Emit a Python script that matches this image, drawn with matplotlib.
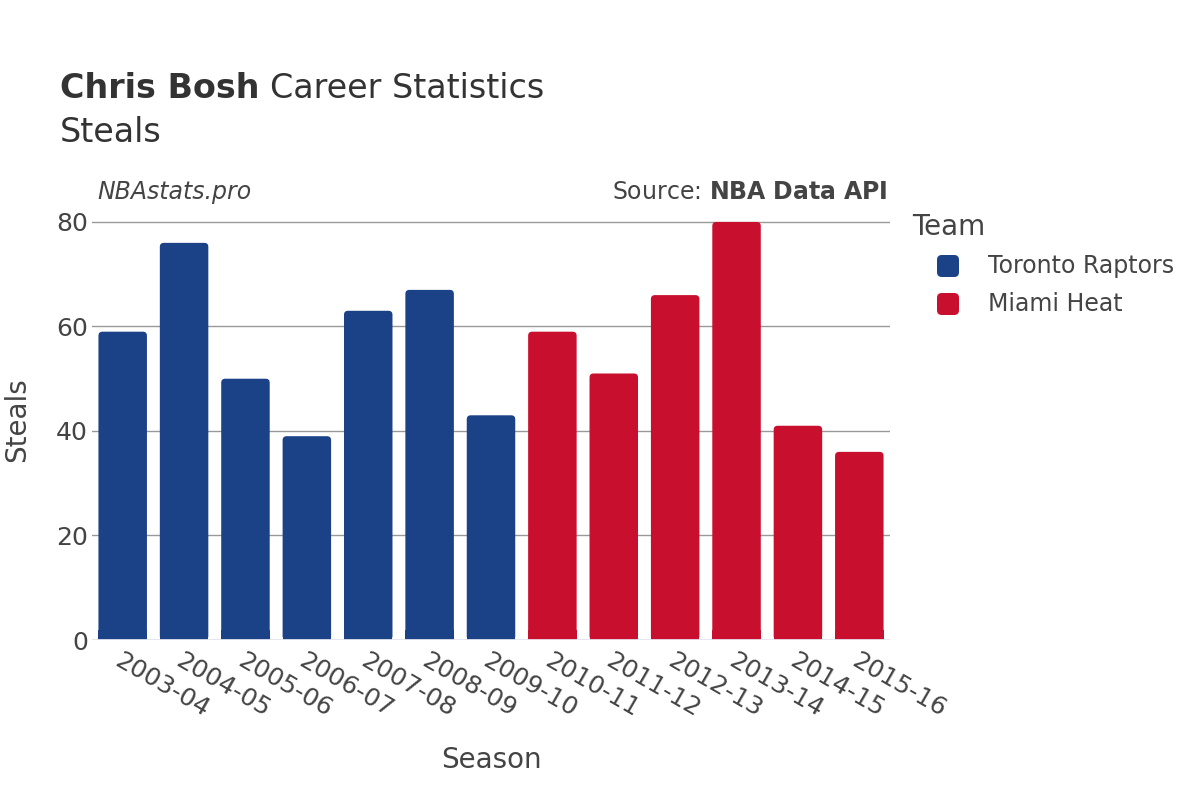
import matplotlib.pyplot as plt
from matplotlib.patches import FancyBboxPatch

seasons = ["2003-04", "2004-05", "2005-06", "2006-07", "2007-08", "2008-09", "2009-10",
           "2010-11", "2011-12", "2012-13", "2013-14", "2014-15", "2015-16"]
steals = [59, 76, 50, 39, 63, 67, 43, 59, 51, 66, 80, 41, 36]
teams = ["Toronto Raptors"] * 7 + ["Miami Heat"] * 6
team_names = ["Toronto Raptors", "Miami Heat"]
team_colors = {"Toronto Raptors": "#1b4186", "Miami Heat": "#c8102e"}

TXT = "#444444"
plt.rcParams['font.family'] = ['DejaVu Sans']

fig = plt.figure(figsize=(12, 8), dpi=100)
ax = fig.add_axes([92 / 1200, 160 / 800, 798 / 1200, 440 / 800])

x = list(range(len(seasons)))
ymax = 84.2
ax.set_xlim(-0.5, len(seasons) - 0.5)
ax.set_ylim(0, ymax)

# rounded bars
px_x = len(seasons) / 798
px_y = ymax / 440
aspect = px_y / px_x
width = 0.79
for xi, v, t in zip(x, steals, teams):
    p = FancyBboxPatch((xi - width / 2, 0), width, v,
                       boxstyle="round,pad=0,rounding_size=%f" % (4 * px_x),
                       mutation_aspect=aspect,
                       facecolor=team_colors[t], edgecolor="none", zorder=3)
    ax.add_patch(p)
    # square off the bottom corners
    ax.bar(xi, min(v, 2), width=width, bottom=0, color=team_colors[t], zorder=3)

ax.set_yticks([0, 20, 40, 60, 80])
ax.grid(axis="y", color="#999999", linewidth=1, zorder=0)
ax.axhline(0, color="#e6e6f0", linewidth=2, zorder=4)
for s in ax.spines.values():
    s.set_visible(False)
ax.tick_params(axis="both", length=0, labelsize=18, colors=TXT)
ax.tick_params(axis="y", pad=3)
ax.set_xticks(x)
ax.set_xticklabels(seasons, rotation=-30, ha="left", rotation_mode="anchor")
ax.tick_params(axis="x", pad=6)

ax.set_xlabel("Season", fontsize=20, color=TXT, labelpad=18)
ax.set_ylabel("Steals", fontsize=20, color=TXT, labelpad=18)

t1 = fig.text(60 / 1200, 1 - 88 / 800, "Chris Bosh", fontsize=24, fontweight="bold",
              color="#333333", va="center")
fig.canvas.draw()
bb = t1.get_window_extent()
fig.text(bb.x1 / 1200 + 11 / 1200, 1 - 88 / 800, "Career Statistics", fontsize=24,
         color="#333333", va="center")
fig.text(60 / 1200, 1 - 132 / 800, "Steals", fontsize=24, color="#333333", va="center")

fig.text(97 / 1200, 1 - 192 / 800, "NBAstats.pro", fontsize=17, style="italic",
         color=TXT, va="center")
fig.text(888 / 1200, 1 - 192 / 800, "Source: $\\bf{NBA\\ Data\\ API}$", fontsize=17,
         color=TXT, va="center", ha="right")

# legend
fig.text(912 / 1200, 1 - 227 / 800, "Team", fontsize=20, color=TXT, va="center")
for i, name in enumerate(team_names):
    cy = 266 + i * 38
    sq = FancyBboxPatch(((937) / 1200, 1 - (cy + 11) / 800), 22 / 1200, 22 / 800,
                        boxstyle="round,pad=0,rounding_size=0.004",
                        mutation_aspect=1.5,
                        transform=fig.transFigure, facecolor=team_colors[name],
                        edgecolor="none")
    fig.patches.append(sq)
    fig.text(988 / 1200, 1 - cy / 800, name, fontsize=17, color=TXT, va="center")

fig.savefig("out.png", dpi=100)
